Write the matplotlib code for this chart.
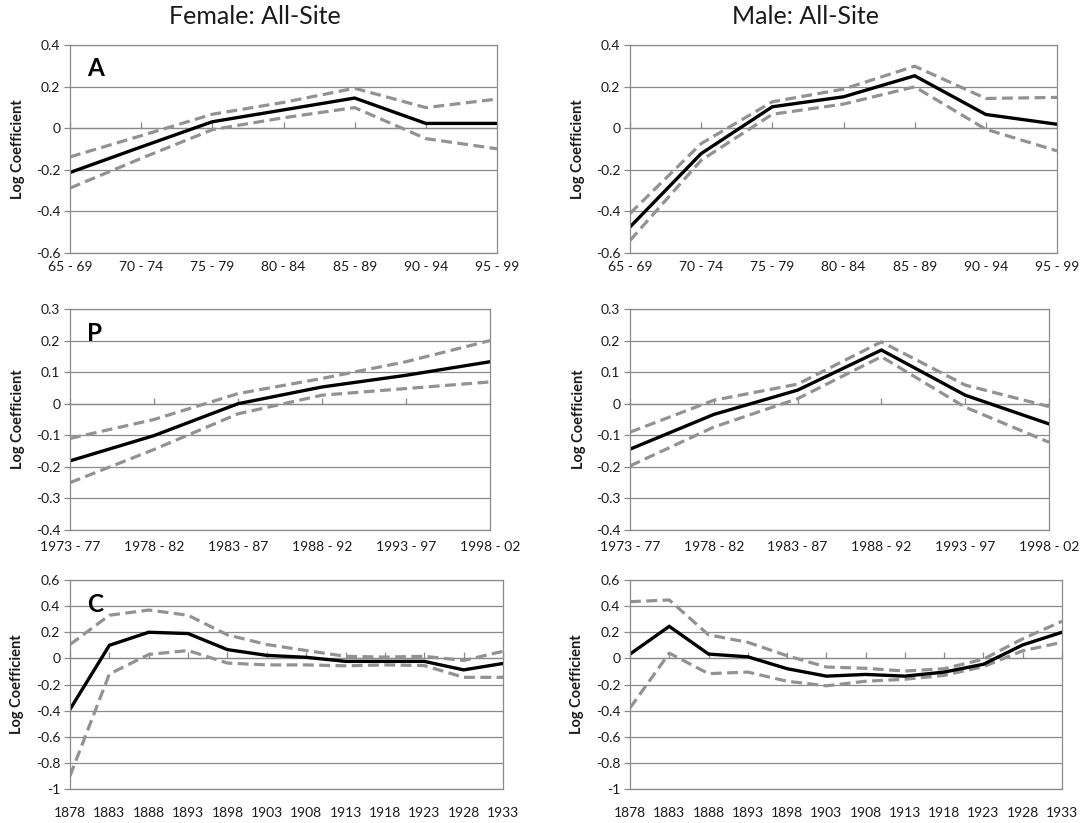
import numpy as np
import matplotlib.pyplot as plt

plt.rcParams['font.family'] = ['Lato', 'DejaVu Sans']

# category labels
age_groups = ['65 - 69', '70 - 74', '75 - 79', '80 - 84', '85 - 89', '90 - 94', '95 - 99']
periods = ['1973 - 77', '1978 - 82', '1983 - 87', '1988 - 92', '1993 - 97', '1998 - 02']
cohorts = ['1878', '1883', '1888', '1893', '1898', '1903',
           '1908', '1913', '1918', '1923', '1928', '1933']

# age effects (estimate, upper, lower)
f_age = [-0.213, -0.09, 0.031, 0.088, 0.145, 0.023, 0.023]
f_age_hi = [-0.138, -0.036, 0.067, 0.124, 0.192, 0.099, 0.14]
f_age_lo = [-0.288, -0.145, -0.007, 0.05, 0.099, -0.05, -0.099]
m_age = [-0.475, -0.122, 0.103, 0.151, 0.252, 0.066, 0.019]
m_age_hi = [-0.41, -0.074, 0.127, 0.188, 0.298, 0.143, 0.148]
m_age_lo = [-0.54, -0.154, 0.067, 0.116, 0.199, -0.005, -0.109]

# period effects
f_per = [-0.181, -0.101, 0.0, 0.053, 0.09, 0.133]
f_per_hi = [-0.11, -0.05, 0.032, 0.08, 0.133, 0.2]
f_per_lo = [-0.25, -0.145, -0.032, 0.027, 0.048, 0.069]
m_per = [-0.144, -0.034, 0.043, 0.17, 0.027, -0.064]
m_per_hi = [-0.09, 0.011, 0.062, 0.196, 0.059, -0.009]
m_per_lo = [-0.197, -0.074, 0.016, 0.149, -0.011, -0.122]

# cohort effects
f_coh = [-0.39, 0.10, 0.20, 0.19, 0.067, 0.023, 0.008, -0.023, -0.023, -0.023, -0.088, -0.039]
f_coh_hi = [0.106, 0.33, 0.37, 0.33, 0.18, 0.106, 0.06, 0.016, 0.01, 0.016, -0.016, 0.054]
f_coh_lo = [-0.90, -0.12, 0.03, 0.06, -0.036, -0.05, -0.05, -0.057, -0.05, -0.055, -0.145, -0.145]
m_coh = [0.033, 0.245, 0.033, 0.012, -0.079, -0.136, -0.123, -0.136, -0.105, -0.045, 0.103, 0.2]
m_coh_hi = [0.434, 0.447, 0.18, 0.123, 0.02, -0.066, -0.076, -0.097, -0.079, -0.006, 0.15, 0.284]
m_coh_lo = [-0.38, 0.04, -0.117, -0.105, -0.175, -0.21, -0.175, -0.16, -0.13, -0.063, 0.058, 0.123]

W, H = 1083, 823
GRID = '#8a8a8a'
BAND = '#929292'
TXT = '#1a1a1a'


def make_ax(fig, left, top, right, bottom):
    return fig.add_axes([left / W, 1 - bottom / H, (right - left) / W, (bottom - top) / H])


def draw_panel(ax, cats, est, hi, lo, ymin, ymax, step, xpad, letter=None):
    x = np.arange(len(cats))
    ax.plot(x, lo, color=BAND, lw=2.3, ls=(0, (3.4, 1.7)))
    ax.plot(x, hi, color=BAND, lw=2.3, ls=(0, (3.4, 1.7)))
    ax.plot(x, est, color='black', lw=2.4, solid_joinstyle='miter')

    ax.set_xlim(0, len(cats) - 1)
    ax.set_ylim(ymin, ymax)
    yt = np.round(np.arange(ymin, ymax + step / 2, step), 2)
    ax.set_yticks(yt)
    ax.set_yticklabels(['%g' % (v + 0.0) if abs(v) > 1e-9 else '0' for v in yt])
    ax.yaxis.grid(True, color=GRID, lw=0.9)
    ax.set_axisbelow(True)
    ax.set_xticks(x)
    ax.set_xticklabels(cats)
    ax.tick_params(axis='x', length=0, pad=xpad, labelsize=10, colors=TXT)
    ax.tick_params(axis='y', length=4, width=0.9, color=GRID, pad=3,
                   labelsize=10, labelcolor=TXT)
    for s in ax.spines.values():
        s.set_color(GRID)
        s.set_linewidth(0.9)

    # category tick marks sit on the zero line
    zero = (0 - ymin) / (ymax - ymin)
    sec = ax.secondary_xaxis(zero)
    sec.set_xticks(x)
    sec.set_xticklabels([''] * len(x))
    sec.tick_params(axis='x', length=4, width=0.9, color=GRID, direction='out')
    sec.spines['bottom'].set_visible(False)

    ax.set_ylabel('Log Coefficient', fontsize=10.5, fontweight='bold', color=TXT)
    ax.yaxis.set_label_coords(-0.106, 0.5)
    if letter:
        ax.text(0.04, 0.94, letter, transform=ax.transAxes, fontsize=17.5,
                fontweight='bold', va='top', ha='left', color='black')


fig = plt.figure(figsize=(W / 100, H / 100), dpi=100)

axA1 = make_ax(fig, 70, 45, 497, 253)
axA2 = make_ax(fig, 630, 45, 1057, 253)
axP1 = make_ax(fig, 70, 309, 490, 530)
axP2 = make_ax(fig, 630, 309, 1049, 530)
axC1 = make_ax(fig, 70, 580, 503, 789)
axC2 = make_ax(fig, 630, 580, 1062, 789)

draw_panel(axA1, age_groups, f_age, f_age_hi, f_age_lo, -0.6, 0.4, 0.2, 6, 'A')
draw_panel(axA2, age_groups, m_age, m_age_hi, m_age_lo, -0.6, 0.4, 0.2, 6)
draw_panel(axP1, periods, f_per, f_per_hi, f_per_lo, -0.4, 0.3, 0.1, 8, 'P')
draw_panel(axP2, periods, m_per, m_per_hi, m_per_lo, -0.4, 0.3, 0.1, 8)
draw_panel(axC1, cohorts, f_coh, f_coh_hi, f_coh_lo, -1.0, 0.6, 0.2, 13, 'C')
draw_panel(axC2, cohorts, m_coh, m_coh_hi, m_coh_lo, -1.0, 0.6, 0.2, 13)

fig.text(255 / W, 1 - 16 / H, 'Female: All-Site', ha='center', va='center',
         fontsize=18, color=TXT)
fig.text(805 / W, 1 - 16 / H, 'Male: All-Site', ha='center', va='center',
         fontsize=18, color=TXT)

fig.savefig('out.png', dpi=100, facecolor='white')
